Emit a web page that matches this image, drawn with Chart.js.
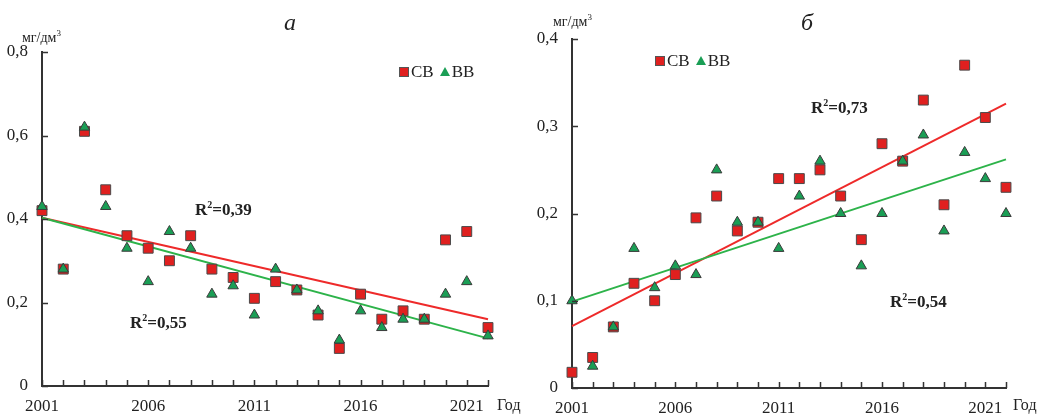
<!DOCTYPE html>
<html>
<head>
<meta charset="utf-8">
<script src="https://cdn.jsdelivr.net/npm/chart.js@4/dist/chart.umd.min.js"></script>
<style>
  body { margin: 0; background: #fff; }
  #wrap { position: relative; width: 1046px; height: 418px; font-family: "Liberation Serif", "DejaVu Serif", serif; color: #222; }
  canvas { position: absolute; top: 0; }
  .lbl { position: absolute; white-space: nowrap; line-height: 1; }
  .title { font-style: italic; font-size: 24px; }
  .unit { font-size: 14px; }
  .r2 { font-size: 17px; font-weight: bold; }
  .god { font-size: 16px; }
  .leg { font-size: 17px; display: flex; align-items: center; }
  .sq { display: inline-block; width: 8px; height: 8px; background: #e0201f; border: 1px solid #555; margin-right: 2px; }
  .tri { display: inline-block; width: 0; height: 0; border-left: 5px solid transparent; border-right: 5px solid transparent; border-bottom: 9px solid #1a9e55; margin: 0 2px 0 6px; }
</style>
</head>
<body>
<div id="wrap">
  <canvas id="chartA" width="523" height="418" style="left:0"></canvas>
  <canvas id="chartB" width="523" height="418" style="left:523px"></canvas>

  <div class="lbl title" style="left:284px; top:10px">а</div>
  <div class="lbl title" style="left:801px; top:10px">б</div>
  <div class="lbl unit" style="left:22px; top:29px">мг/дм<sup style="font-size:9px">3</sup></div>
  <div class="lbl unit" style="left:553px; top:13px">мг/дм<sup style="font-size:9px">3</sup></div>

  <div class="lbl leg" style="left:399px; top:63px"><span class="sq"></span>СВ<span class="tri"></span>ВВ</div>
  <div class="lbl leg" style="left:655px; top:52px"><span class="sq"></span>СВ<span class="tri"></span>ВВ</div>

  <div class="lbl r2" style="left:195px; top:200px">R<sup style="font-size:10px">2</sup>=0,39</div>
  <div class="lbl r2" style="left:130px; top:313px">R<sup style="font-size:10px">2</sup>=0,55</div>
  <div class="lbl r2" style="left:811px; top:98px">R<sup style="font-size:10px">2</sup>=0,73</div>
  <div class="lbl r2" style="left:890px; top:292px">R<sup style="font-size:10px">2</sup>=0,54</div>

  <div class="lbl god" style="left:497px; top:397px">Год</div>
  <div class="lbl god" style="left:1013px; top:397px">Год</div>
</div>

<script>
// years 2001..2022
const years = [2001, 2002, 2003, 2004, 2005, 2006, 2007, 2008, 2009, 2010, 2011,
               2012, 2013, 2014, 2015, 2016, 2017, 2018, 2019, 2020, 2021, 2022];

// panel "а"
const cbA = [0.42, 0.28, 0.61, 0.47, 0.36, 0.33, 0.30, 0.36, 0.28, 0.26, 0.21,
             0.25, 0.23, 0.17, 0.09, 0.22, 0.16, 0.18, 0.16, 0.35, 0.37, 0.14];
const bbA = [0.43, 0.28, 0.62, 0.43, 0.33, 0.25, 0.37, 0.33, 0.22, 0.24, 0.17,
             0.28, 0.23, 0.18, 0.11, 0.18, 0.14, 0.16, 0.16, 0.22, 0.25, 0.12];
const trendCbA = [0.403, 0.160];   // at 2001 and 2022
const trendBbA = [0.403, 0.114];

// panel "б"
const cbB = [0.018, 0.035, 0.07, 0.12, 0.10, 0.13, 0.195, 0.22, 0.18, 0.19, 0.24,
             0.24, 0.25, 0.22, 0.17, 0.28, 0.26, 0.33, 0.21, 0.37, 0.31, 0.23];
const bbB = [0.10, 0.025, 0.07, 0.16, 0.115, 0.14, 0.13, 0.25, 0.19, 0.19, 0.16,
             0.22, 0.26, 0.20, 0.14, 0.20, 0.26, 0.29, 0.18, 0.27, 0.24, 0.20];
const trendCbB = [0.071, 0.326];
const trendBbB = [0.099, 0.262];

const yTicksA = [0, 0.2, 0.4, 0.6, 0.8];
const yTicksB = [0, 0.1, 0.2, 0.3, 0.4];
const xLabelYears = [2001, 2006, 2011, 2016, 2021];

const RED = '#e0201f';
const GREEN = '#1a9e55';
const AXIS = '#333';

function pts(vals) {
  return vals.map((v, i) => ({ x: years[i], y: v }));
}
function trend(ends) {
  return [{ x: years[0], y: ends[0] }, { x: years[years.length - 1], y: ends[1] }];
}
function fmt(v) {
  if (Math.abs(v) < 1e-9) return '0';
  return v.toFixed(1).replace('.', ',');
}

// small tick marks pointing into the plot
const innerTicks = {
  id: 'innerTicks',
  afterDraw(chart) {
    const { ctx, chartArea, scales } = chart;
    ctx.save();
    ctx.strokeStyle = AXIS;
    ctx.lineWidth = 1.5;
    ctx.beginPath();
    scales.x.ticks.forEach(t => {
      const px = Math.round(scales.x.getPixelForValue(t.value)) + 0.5;
      ctx.moveTo(px, chartArea.bottom);
      ctx.lineTo(px, chartArea.bottom - 6);
    });
    scales.y.ticks.forEach(t => {
      const py = Math.round(scales.y.getPixelForValue(t.value)) + 0.5;
      ctx.moveTo(chartArea.left, py);
      ctx.lineTo(chartArea.left + 6, py);
    });
    ctx.stroke();
    ctx.restore();
  }
};

function makeChart(id, cb, bb, tCb, tBb, yTicks, pad, yWidth, xHeight) {
  const yMax = yTicks[yTicks.length - 1];
  return new Chart(document.getElementById(id), {
    type: 'scatter',
    data: {
      datasets: [
        { data: pts(cb), pointStyle: 'rect', pointRadius: 7, pointHoverRadius: 7,
          backgroundColor: RED, borderColor: '#4a4a4a', borderWidth: 1, order: 2, clip: false },
        { data: pts(bb), pointStyle: 'triangle', pointRadius: 6, pointHoverRadius: 6,
          backgroundColor: GREEN, borderColor: '#3a3a3a', borderWidth: 1, order: 1, clip: false },
        { type: 'line', data: trend(tBb), borderColor: '#2db34a', borderWidth: 2,
          pointRadius: 0, order: 3, clip: false },
        { type: 'line', data: trend(tCb), borderColor: '#ee2a2a', borderWidth: 2,
          pointRadius: 0, order: 4, clip: false }
      ]
    },
    options: {
      responsive: false,
      animation: false,
      events: [],
      layout: { padding: pad },
      plugins: { legend: { display: false }, tooltip: { enabled: false } },
      scales: {
        x: {
          type: 'linear', min: years[0], max: years[years.length - 1],
          afterFit: s => { s.height = xHeight; },
          border: { color: AXIS, width: 2 },
          grid: { drawOnChartArea: false, drawTicks: false },
          ticks: {
            stepSize: 1, autoSkip: false, maxRotation: 0, padding: 10,
            color: '#222', font: { family: 'Liberation Serif', size: 17 },
            callback: v => xLabelYears.includes(v) ? String(v) : ''
          }
        },
        y: {
          min: 0, max: yMax,
          afterFit: s => { s.width = yWidth; },
          afterBuildTicks: s => { s.ticks = yTicks.map(v => ({ value: v })); },
          border: { color: AXIS, width: 2 },
          grid: { drawOnChartArea: false, drawTicks: false },
          ticks: {
            padding: 14, color: '#222',
            font: { family: 'Liberation Serif', size: 17 },
            callback: v => fmt(v)
          }
        }
      }
    },
    plugins: [innerTicks]
  });
}

makeChart('chartA', cbA, bbA, trendCbA, trendBbA, yTicksA,
  { left: 0, right: 35, top: 52, bottom: 0 }, 42, 32);
makeChart('chartB', cbB, bbB, trendCbB, trendBbB, yTicksB,
  { left: 0, right: 40, top: 39, bottom: 0 }, 49, 30);
</script>
</body>
</html>
